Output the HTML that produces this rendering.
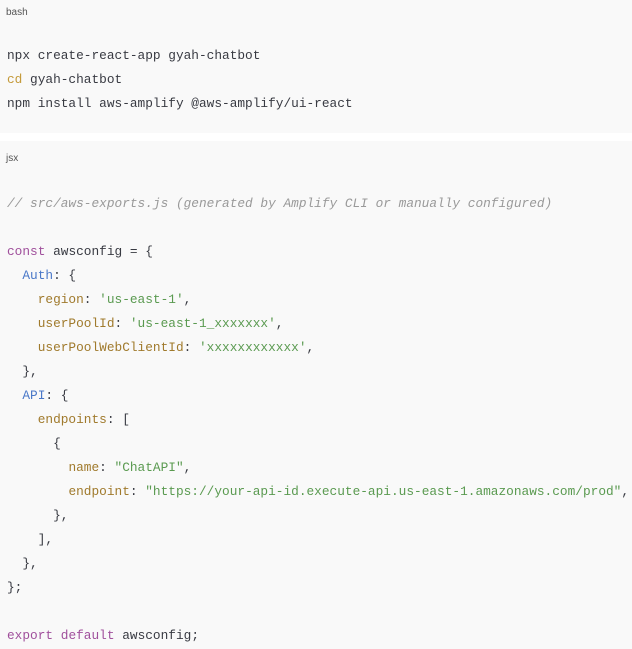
<!DOCTYPE html>
<html><head><style>
body{margin:0;width:632px;height:649px;background:#fff;overflow:hidden;position:relative}
.blk{position:absolute;left:0;width:632px;background:#f9f9f9}
.lbl{position:absolute;left:6px;font:10px "Liberation Sans",sans-serif;color:#555}
pre{position:absolute;left:7px;margin:0;font:12.8px/24px "Liberation Mono",monospace;color:#383a42;white-space:pre}
.k{color:#a0509c}.c{color:#999;font-style:italic}.b{color:#4a78c8}.p{color:#a07a2c}.s{color:#5a9a50}.o{color:#c49a3a}
</style></head><body>
<div class="blk" style="top:0;height:133px"></div>
<div class="lbl" style="top:7px">bash</div>
<pre style="top:44px">npx create-react-app gyah-chatbot
<span class="o">cd</span> gyah-chatbot
npm install aws-amplify @aws-amplify/ui-react</pre>
<div class="blk" style="top:141px;height:508px"></div>
<div class="lbl" style="top:153px">jsx</div>
<pre style="top:192px"><span class="c">// src/aws-exports.js (generated by Amplify CLI or manually configured)</span>

<span class="k">const</span> awsconfig = {
  <span class="b">Auth</span>: {
    <span class="p">region</span>: <span class="s">'us-east-1'</span>,
    <span class="p">userPoolId</span>: <span class="s">'us-east-1_xxxxxxx'</span>,
    <span class="p">userPoolWebClientId</span>: <span class="s">'xxxxxxxxxxxx'</span>,
  },
  <span class="b">API</span>: {
    <span class="p">endpoints</span>: [
      {
        <span class="p">name</span>: <span class="s">"ChatAPI"</span>,
        <span class="p">endpoint</span>: <span class="s">"https://your-api-id.execute-api.us-east-1.amazonaws.com/prod"</span>,
      },
    ],
  },
};

<span class="k">export</span> <span class="k">default</span> awsconfig;</pre>
</body></html>
